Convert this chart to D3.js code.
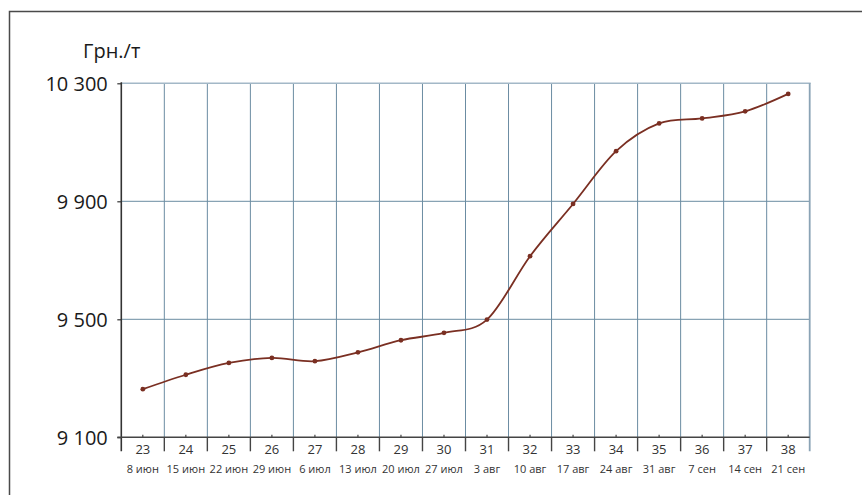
<!DOCTYPE html>
<html>
<head>
<meta charset="utf-8">
<script src="https://cdn.jsdelivr.net/npm/d3@7"></script>
<style>
  html, body { margin: 0; padding: 0; background: #fff; }
  svg { display: block; }
</style>
</head>
<body>
<svg id="chart" width="862" height="495"></svg>
<script>
// ---- data ----
const weeks = ["23","24","25","26","27","28","29","30","31","32","33","34","35","36","37","38"];
const dates = ["8 июн","15 июн","22 июн","29 июн","6 июл","13 июл","20 июл","27 июл","3 авг","10 авг","17 авг","24 авг","31 авг","7 сен","14 сен","21 сен"];
const prices = [9263, 9312, 9352, 9369, 9358, 9388, 9429, 9454, 9499, 9714, 9891, 10070, 10164, 10181, 10205, 10264];
const yTicks = [9100, 9500, 9900, 10300];
const unitLabel = "Грн./т";

(function () {
// ---- layout ----
const svg = d3.select("#chart");
const pLeft = 121.3, pRight = 809.7, pTop = 83.3, pBottom = 437.3;

const x = d3.scaleBand().domain(weeks).range([pLeft, pRight]).paddingInner(0).paddingOuter(0);
const y = d3.scaleLinear().domain([9100, 10300]).range([pBottom, pTop]);
const cx = d => x(d) + x.bandwidth() / 2;

const locale = d3.formatLocale({decimal: ",", thousands: " ", grouping: [3], currency: ["", ""]});
const fmt = locale.format(",");

// outer frame
svg.append("rect")
  .attr("x", 9.5).attr("y", 11.5).attr("width", 900).attr("height", 520)
  .attr("fill", "none").attr("stroke", "#4a4a4a").attr("stroke-width", 1.5);

// vertical grid lines (band boundaries)
const bounds = weeks.map(w => x(w)).concat([pRight]);
svg.append("g").selectAll("line")
  .data(bounds.slice(1, -1))
  .join("line")
  .attr("x1", d => d).attr("x2", d => d)
  .attr("y1", pTop).attr("y2", pBottom)
  .attr("stroke", "#6b8ca2").attr("stroke-width", 1);

// horizontal grid lines
svg.append("g").selectAll("line")
  .data(yTicks.slice(1, -1))
  .join("line")
  .attr("x1", pLeft).attr("x2", pRight)
  .attr("y1", d => y(d)).attr("y2", d => y(d))
  .attr("stroke", "#6b8ca2").attr("stroke-width", 1);

// top grid line (lighter) and right edge
svg.append("line")
  .attr("x1", pLeft).attr("x2", pRight + 1)
  .attr("y1", y(10300)).attr("y2", y(10300))
  .attr("stroke", "#a3b8c7").attr("stroke-width", 1.5);
svg.append("line")
  .attr("x1", pRight).attr("x2", pRight)
  .attr("y1", pTop).attr("y2", pBottom + 14)
  .attr("stroke", "#8aa3b5").attr("stroke-width", 1.8);

// y axis
const yAxis = d3.axisLeft(y).tickValues(yTicks).tickSize(4).tickFormat(fmt).tickPadding(10);
const gy = svg.append("g").attr("transform", `translate(${pLeft},0)`).call(yAxis);
gy.select(".domain").remove();
gy.selectAll(".tick line").attr("stroke", "#333").attr("stroke-width", 1.2);
gy.selectAll(".tick text")
  .attr("font-family", "'Open Sans', sans-serif")
  .attr("font-size", 20).attr("fill", "#1a1a1a")
  .attr("x", -13.5).attr("dy", "0.38em");
svg.append("line")
  .attr("x1", pLeft).attr("x2", pLeft).attr("y1", pTop - 1).attr("y2", pBottom + 14)
  .attr("stroke", "#333").attr("stroke-width", 1.6);

// x axis line
svg.append("line")
  .attr("x1", pLeft - 4).attr("x2", pRight).attr("y1", pBottom).attr("y2", pBottom)
  .attr("stroke", "#444").attr("stroke-width", 1.4);

// boundary ticks (downward)
svg.append("g").selectAll("line")
  .data(bounds.slice(1, -1))
  .join("line")
  .attr("x1", d => d).attr("x2", d => d)
  .attr("y1", pBottom).attr("y2", pBottom + 14)
  .attr("stroke", "#444").attr("stroke-width", 1.4);

// small center ticks (upward)
svg.append("g").selectAll("line")
  .data(weeks)
  .join("line")
  .attr("x1", d => cx(d)).attr("x2", d => cx(d))
  .attr("y1", pBottom - 2.5).attr("y2", pBottom)
  .attr("stroke", "#444").attr("stroke-width", 1.2);

// week labels
svg.append("g").selectAll("text")
  .data(weeks)
  .join("text")
  .attr("x", d => cx(d)).attr("y", 454)
  .attr("text-anchor", "middle")
  .attr("font-family", "'Open Sans', sans-serif")
  .attr("font-size", 13).attr("fill", "#333")
  .text(d => d);

// date labels
svg.append("g").selectAll("text")
  .data(weeks)
  .join("text")
  .attr("x", d => cx(d)).attr("y", 473)
  .attr("text-anchor", "middle")
  .attr("font-family", "'Open Sans', sans-serif")
  .attr("font-size", 11).attr("fill", "#333")
  .text((d, i) => dates[i]);

// unit label
svg.append("text")
  .attr("x", 83).attr("y", 57.5)
  .attr("font-family", "'Open Sans', sans-serif")
  .attr("font-size", 20).attr("fill", "#1a1a1a")
  .text(unitLabel);

// line
const pts = weeks.map((w, i) => [cx(w), y(prices[i])]);
const line = d3.line().curve(d3.curveCatmullRom.alpha(0));
svg.append("path")
  .attr("d", line(pts))
  .attr("fill", "none")
  .attr("stroke", "#7a2f22")
  .attr("stroke-width", 1.8);

svg.append("g").selectAll("circle")
  .data(pts)
  .join("circle")
  .attr("cx", d => d[0]).attr("cy", d => d[1])
  .attr("r", 2.4)
  .attr("fill", "#7a2f22");
})();
</script>
</body>
</html>
